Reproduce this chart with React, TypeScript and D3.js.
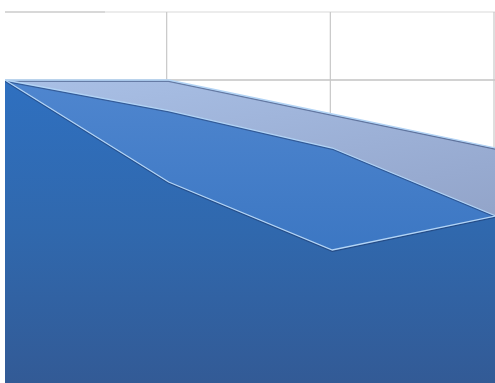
import React from "react";
import * as d3 from "d3";

const categories = ["A", "B", "C", "D"];
const seriesBack = [5, 5, 4.5, 4];
const seriesMid = [5, 4.55, 4, 3];
const seriesFront = [5, 3.5, 2.5, 3];
const yTicks = [0, 1, 2, 3, 4, 5, 6];

const W = 495;
const H = 383;
const left = 5;
const right = 495;
const top = 12;
const bottom = 420;

export default function App() {
  const x = d3.scalePoint<string>().domain(categories).range([left, 496]);
  const y = d3.scaleLinear().domain([0, 6]).range([bottom, top]);

  const area = d3
    .area<number>()
    .x((_, i) => x(categories[i]) as number)
    .y0(y(0))
    .y1((d) => y(d));
  const line = d3
    .line<number>()
    .x((_, i) => x(categories[i]) as number)
    .y((d) => y(d));

  const series = [
    { data: seriesBack, fill: "url(#gBack)" },
    { data: seriesMid, fill: "url(#gMid)" },
    { data: seriesFront, fill: "url(#gFront)" },
  ];

  return (
    <svg
      width={W}
      height={H}
      style={{ position: "absolute", left: 0, top: 0, background: "#fff" }}
    >
      <defs>
        <linearGradient id="gBack" x1="0" y1="0" x2="0.3" y2="1">
          <stop offset="0" stopColor="#a9c0e6" />
          <stop offset="0.5" stopColor="#97aad0" />
          <stop offset="1" stopColor="#8796b8" />
        </linearGradient>
        <linearGradient id="gMid" x1="0" y1="0" x2="0" y2="1">
          <stop offset="0" stopColor="#4f86cf" />
          <stop offset="0.5" stopColor="#3c77c3" />
          <stop offset="1" stopColor="#346db5" />
        </linearGradient>
        <linearGradient id="gFront" x1="0" y1="0" x2="0" y2="1">
          <stop offset="0" stopColor="#2f70c0" />
          <stop offset="0.45" stopColor="#3068ad" />
          <stop offset="1" stopColor="#335790" />
        </linearGradient>
        <clipPath id="plot">
          <rect x={left} y={top - 1} width={right - left} height={bottom - top + 2} />
        </clipPath>
      </defs>
      <g clipPath="url(#plot)">
        {yTicks.map((t) => (
          <line
            key={"h" + t}
            x1={left}
            x2={right}
            y1={y(t)}
            y2={y(t)}
            stroke={t === 6 ? "#dadada" : "#a6a6a6"}
            strokeWidth={1.2}
          />
        ))}
        <line x1={left} x2={105} y1={y(6)} y2={y(6)} stroke="#c4c4c4" strokeWidth={1.2} />
        {categories.slice(1).map((c) => (
          <line
            key={"v" + c}
            x1={(x(c) as number) - 2}
            x2={(x(c) as number) - 2}
            y1={top}
            y2={bottom}
            stroke="#c8c8c8"
            strokeWidth={1.2}
          />
        ))}
        {series.map((s, i) => (
          <g key={i}>
            <path d={area(s.data) as string} fill={s.fill} />
            <path
              d={line(s.data) as string}
              fill="none"
              stroke="rgba(25,45,90,0.45)"
              strokeWidth={1.4}
              transform="translate(0,1.2)"
            />
            <path
              d={line(s.data) as string}
              fill="none"
              stroke="#b3d4f5"
              strokeWidth={1.3}
            />
          </g>
        ))}
      </g>
    </svg>
  );
}
